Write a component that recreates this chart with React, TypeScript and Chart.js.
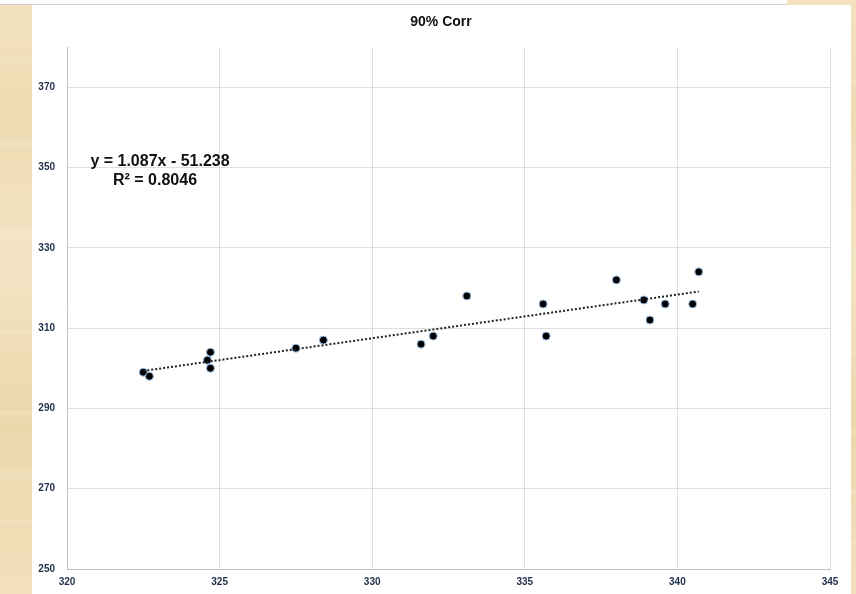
import React, { useEffect, useRef } from "react";
import { Chart, registerables } from "chart.js";

Chart.register(...registerables);

const titleText = "90% Corr";
const xValues = [322.5, 322.7, 324.7, 324.6, 324.7, 327.5, 328.4, 331.6, 332.0, 333.1, 335.6, 335.7, 338.0, 338.9, 339.1, 339.6, 340.5, 340.7];
const yValues = [299, 298, 304, 302, 300, 305, 307, 306, 308, 318, 316, 308, 322, 317, 312, 316, 316, 324];
const slope = 1.087;
const intercept = -51.238;
const rSquared = 0.8046;
const xTicks = [320, 325, 330, 335, 340, 345];
const yTicks = [250, 270, 290, 310, 330, 350, 370];
const xRange = [320, 345];
const yRange = [250, 380];

const W = 856;
const H = 594;

const backgroundPlugin = {
  id: "bgPanel",
  beforeDraw(chart: any) {
    const ctx = chart.ctx;
    ctx.save();
    const g = ctx.createLinearGradient(0, 0, 0, H);
    g.addColorStop(0, "#f2e2bf");
    g.addColorStop(0.2, "#eedbb2");
    g.addColorStop(0.45, "#f3e4c4");
    g.addColorStop(0.7, "#ecd7ac");
    g.addColorStop(1, "#f1e0bb");
    ctx.fillStyle = g;
    ctx.fillRect(0, 0, W, H);
    ctx.globalAlpha = 0.18;
    ctx.fillStyle = "#fbf3e2";
    [60, 140, 230, 330, 410, 470, 520].forEach((yy, i) => {
      ctx.fillRect(0, yy, 32, 3 + (i % 3) * 4);
      ctx.fillRect(851, yy + 20, 5, 4);
    });
    ctx.globalAlpha = 1;
    ctx.fillStyle = "#ffffff";
    ctx.fillRect(0, 0, 787, 5);
    ctx.fillRect(32, 5, 819, H - 5);
    ctx.fillStyle = "#d0d0d0";
    ctx.fillRect(0, 4, 787, 1);
    ctx.restore();
  },
  afterDraw(chart: any) {
    const ctx = chart.ctx;
    ctx.save();
    ctx.fillStyle = "#111111";
    ctx.textAlign = "center";
    ctx.textBaseline = "middle";
    ctx.font = "bold 14px 'Liberation Sans', Arial, sans-serif";
    ctx.fillText(titleText, 441, 22);
    ctx.font = "bold 16px 'Liberation Sans', Arial, sans-serif";
    const sign = intercept < 0 ? "-" : "+";
    const eq = `y = ${slope.toFixed(3)}x ${sign} ${Math.abs(intercept).toFixed(3)}`;
    ctx.fillText(eq, 160, 162);
    ctx.fillText(`R\u00B2 = ${rSquared}`, 155, 181);
    ctx.restore();
  },
};

export default function App() {
  const ref = useRef<HTMLCanvasElement | null>(null);
  useEffect(() => {
    if (!ref.current) return;
    const minX = Math.min(...xValues);
    const maxX = Math.max(...xValues);
    const trend = [minX, maxX].map((x) => ({ x, y: slope * x + intercept }));
    const pts = xValues.map((x, i) => ({ x, y: yValues[i] }));
    const tickFont = { family: "'Liberation Sans', Arial, sans-serif", size: 10, weight: "bold" as const };
    const chart = new Chart(ref.current, {
      type: "scatter",
      data: {
        datasets: [
          {
            type: "line",
            data: trend,
            borderColor: "#222222",
            borderWidth: 2,
            borderDash: [2, 2],
            pointRadius: 0,
            fill: false,
          } as any,
          {
            data: pts,
            backgroundColor: "#000000",
            borderColor: "#9dc3e6",
            borderWidth: 1,
            pointRadius: 4,
          },
        ],
      },
      plugins: [backgroundPlugin],
      options: {
        animation: false,
        responsive: false,
        layout: { padding: { left: 0, right: 26, top: 47, bottom: 0 } },
        plugins: { legend: { display: false }, title: { display: false }, tooltip: { enabled: false } },
        scales: {
          x: {
            type: "linear",
            min: xRange[0],
            max: xRange[1],
            afterBuildTicks: (s: any) => {
              s.ticks = xTicks.map((v) => ({ value: v }));
            },
            afterFit: (s: any) => {
              s.height = 25;
            },
            grid: { color: "#dedede", drawTicks: false },
            border: { color: "#bfbfbf" },
            ticks: { color: "#1f2d4a", font: tickFont, padding: 7, maxRotation: 0 },
          },
          y: {
            type: "linear",
            min: yRange[0],
            max: yRange[1],
            afterBuildTicks: (s: any) => {
              s.ticks = yTicks.map((v) => ({ value: v }));
            },
            afterFit: (s: any) => {
              s.width = 67;
            },
            grid: { color: "#dedede", drawTicks: false },
            border: { color: "#bfbfbf" },
            ticks: { color: "#1f2d4a", font: tickFont, padding: 12 },
          },
        },
      },
    });
    return () => chart.destroy();
  }, []);
  return (
    <div style={{ position: "fixed", left: 0, top: 0, width: W, height: H }}>
      <canvas ref={ref} width={W} height={H} style={{ display: "block" }} />
    </div>
  );
}
